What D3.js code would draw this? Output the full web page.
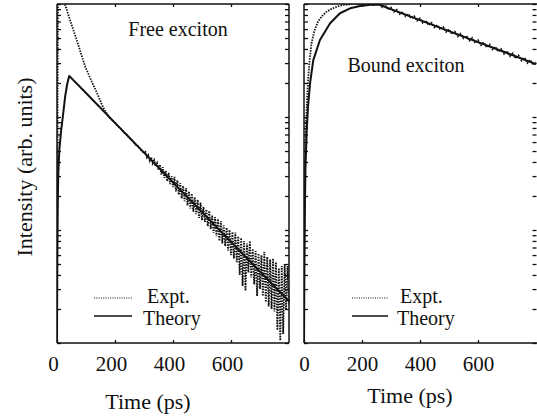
<!DOCTYPE html>
<html>
<head>
<meta charset="utf-8">
<script src="https://cdn.jsdelivr.net/npm/d3@7"></script>
<style>
  body { margin: 0; background: #fff; }
  text { font-family: "Liberation Serif", "DejaVu Serif", serif; fill: #111; }
</style>
</head>
<body>
<div id="chart"></div>
<script>
// time (ps), intensity (arb. units)
const xTicks = [0, 200, 400, 600];
const topTicks = [200, 400, 600];
const legendLabels = ["Expt.", "Theory"];

const freeTheory = [[0,1],[1,5],[2,12],[3,20],[4.5,32],[8,51],[14,75],[20,100],[28,151],[35,195],[42,231],
  [100,163],[200,88.7],[300,48.4],[400,26.4],[500,14.4],[600,7.85],[700,4.28],[800,2.34]];

const freeExpt = [[0,1],[0.7,5],[1.3,30],[2,150],[3,700],[4,1500],[15,1400],[27,1000],[45,720],[68,480],
  [97,280],[120,205],[137,165],[160,120],[180,99],[190,94],[200,89],[210,83],[220,79],[230,73],[240,70],
  [250,65],[260,62],[270,57],[280,55],[290,51],[300,48],
  [305,49],[310,44],[315,46],[320,41],[325,44],[330,39],[335,41.5],[340,36.5],[345,39],[350,34],[355,38],
  [360,31],[365,36],[370,29],[375,33.5],[380,27],[385,32],[390,25.5],[395,30],[400,24],
  [405,29.5],[410,22],[415,27.5],[420,20.5],[425,26],[430,19],[435,24.5],[440,18],[445,23.5],[450,16.5],
  [455,22],[460,15.5],[465,21],[470,14.5],[475,19.5],[480,13.8],[485,18.5],[490,12.8],[495,17.5],[500,12.2],
  [505,16],[510,11.8],[515,15.2],[520,10.8],[525,14.8],[530,10.2],[535,13.5],[540,9.4],[545,13],[550,8.8],
  [555,12.5],[560,8.0],[565,12],[570,7.6],[575,11],[580,7.2],[585,10.5],[590,6.6],[595,10],[600,6.0],
  [605,9.6],[610,5.6],[615,9.5],[620,5.2],[625,8.8],[630,4.0],[635,8.5],[640,3.2],[645,8],[650,2.9],
  [655,7.6],[660,4.2],[665,8.0],[670,3.8],[675,6.8],[680,3.3],[685,6.5],[690,2.6],[695,6.2],[700,3.0],
  [705,6.0],[710,2.6],[715,6.4],[720,2.3],[725,5.8],[730,2.1],[735,5.5],[740,2.0],[745,5.6],[750,1.9],
  [755,5.2],[760,1.3],[765,4.6],[770,1.05],[775,4.8],[780,1.2],[785,5.0],[790,2.0],[795,4.8],[800,2.2]];

const boundTheory = [[0,1],[1.5,5],[3.4,18],[5,35],[9,72],[14,125],[21,199],[32,319],[55,480],[90,675],
  [124,828],[159,916],[193,960],[230,985],[260,985],[300,900],[400,720],[500,576],[600,460],[700,368],[800,294]];

const boundExpt = [[0,1],[0.5,4],[1,10],[2,20],[3,32],[4.5,48],[6,70],[8,100],[11,150],[15,230],[20,330],
  [26,450],[36,580],[48,697],[62,780],[78,855],[95,905],[113,946],[134,980],[160,995],[180,1005],[200,990],
  [210,1010],[220,995],[230,1005],[240,980],[250,1000],
  [260,1010],[270,935],[280,975],[290,890],[300,930],[310,855],[320,890],[330,815],[340,850],[350,780],
  [360,815],[370,745],[380,780],[390,712],[400,748],[410,680],[420,712],[430,650],[440,682],[450,622],
  [460,652],[470,594],[480,625],[490,566],[500,598],[510,543],[520,570],[530,518],[540,546],[550,497],
  [560,522],[570,474],[580,500],[590,452],[600,478],[610,433],[620,457],[630,414],[640,437],[650,396],
  [660,418],[670,378],[680,399],[690,362],[700,383],[710,345],[720,366],[730,330],[740,350],[750,316],
  [760,335],[770,301],[780,320],[790,289],[800,305]];

const W = 537, H = 419;
const yTop = 4, yBottom = 343;

const svg = d3.select("#chart").append("svg")
    .attr("width", W)
    .attr("height", H);

svg.append("rect").attr("width", W).attr("height", H).attr("fill", "#fff");

const y = d3.scaleLog().domain([1, 1000]).range([yBottom, yTop]);

const panels = [
  { id: "free", left: 57, right: 289, theory: freeTheory, expt: freeExpt, title: "Free exciton",
    tx: 178, ty: 36, labelDx: -4, rightBorder: true,
    leg: { x1: 94, x2: 132, ex: 147, thx: 143 }, xt: { x: 148, y: 409 } },
  { id: "bound", left: 304, right: 536, theory: boundTheory, expt: boundExpt, title: "Bound exciton",
    tx: 406, ty: 72, labelDx: 0, rightBorder: false,
    leg: { x1: 352, x2: 388, ex: 400, thx: 397 }, xt: { x: 410, y: 403 } }
];

panels.forEach(function (p) {
  const x = d3.scaleLinear().domain([0, 800]).range([p.left, p.right]);
  const g = svg.append("g");

  g.append("clipPath").attr("id", "clip-" + p.id)
    .append("rect")
    .attr("x", p.left).attr("y", yTop)
    .attr("width", p.right - p.left + 2).attr("height", yBottom - yTop);

  const line = d3.line()
      .x(function (d) { return x(d[0]); })
      .y(function (d) { return y(d[1]); });

  const plot = g.append("g").attr("clip-path", "url(#clip-" + p.id + ")");

  // experiment: dotted
  plot.append("path")
      .datum(p.expt)
      .attr("d", line)
      .attr("fill", "none")
      .attr("stroke", "#111")
      .attr("stroke-width", 1.8)
      .attr("stroke-dasharray", "1.5,1.2");

  // theory: solid
  plot.append("path")
      .datum(p.theory)
      .attr("d", line)
      .attr("fill", "none")
      .attr("stroke", "#111")
      .attr("stroke-width", 2)
      .attr("stroke-linejoin", "round");

  // frame
  const frame = g.append("g").attr("stroke", "#111").attr("stroke-width", 1.5);
  const xEnd = p.rightBorder ? p.right : W + 2;
  frame.append("line").attr("x1", p.left).attr("x2", p.left).attr("y1", yTop).attr("y2", yBottom);
  frame.append("line").attr("x1", p.left).attr("x2", xEnd).attr("y1", yTop).attr("y2", yTop);
  frame.append("line").attr("x1", p.left).attr("x2", xEnd).attr("y1", yBottom).attr("y2", yBottom);
  if (p.rightBorder) {
    frame.append("line").attr("x1", p.right).attr("x2", p.right).attr("y1", yTop).attr("y2", yBottom);
  }

  // log ticks, inside on both sides
  const yl = g.append("g").attr("transform", "translate(" + p.left + ",0)")
      .call(d3.axisRight(y).tickValues(y.ticks()).tickSize(4).tickFormat(""));
  const yr = g.append("g").attr("transform", "translate(" + (p.rightBorder ? p.right : W - 0.5) + ",0)")
      .call(d3.axisLeft(y).tickValues(y.ticks()).tickSize(4).tickFormat(""));
  [yl, yr].forEach(function (a) {
    a.select(".domain").remove();
    a.selectAll(".tick line").attr("stroke", "#111").attr("stroke-width", 1.3);
  });

  // time axis
  const xb = g.append("g").attr("transform", "translate(0," + yBottom + ")")
      .call(d3.axisBottom(x).tickValues(xTicks).tickSize(-3).tickPadding(13));
  xb.select(".domain").remove();
  xb.selectAll(".tick line").attr("stroke", "#111").attr("stroke-width", 1.3);
  xb.selectAll(".tick text")
      .attr("dx", p.labelDx)
      .style("font-size", "21px")
      .style("font-family", "'Liberation Serif', serif")
      .attr("fill", "#111");

  const xt = g.append("g").attr("transform", "translate(0," + yTop + ")")
      .call(d3.axisTop(x).tickValues(topTicks).tickSize(-3).tickFormat(""));
  xt.select(".domain").remove();
  xt.selectAll(".tick line").attr("stroke", "#111").attr("stroke-width", 1.3);

  // panel title
  g.append("text")
      .attr("x", p.tx).attr("y", p.ty)
      .attr("text-anchor", "middle")
      .style("font-size", "20px")
      .text(p.title);

  // legend
  g.append("line")
      .attr("x1", p.leg.x1).attr("x2", p.leg.x2).attr("y1", 298).attr("y2", 298)
      .attr("stroke", "#111").attr("stroke-width", 1.2).attr("stroke-dasharray", "1,1.3");
  g.append("line")
      .attr("x1", p.leg.x1).attr("x2", p.leg.x2).attr("y1", 316).attr("y2", 316)
      .attr("stroke", "#111").attr("stroke-width", 1.6);
  g.append("text").attr("x", p.leg.ex).attr("y", 303).style("font-size", "20px").text(legendLabels[0]);
  g.append("text").attr("x", p.leg.thx).attr("y", 325).style("font-size", "20px").text(legendLabels[1]);

  // x title
  g.append("text")
      .attr("x", p.xt.x).attr("y", p.xt.y)
      .attr("text-anchor", "middle")
      .style("font-size", "22px")
      .text("Time (ps)");
});

svg.append("text")
    .attr("transform", "translate(31.5,167) rotate(-90)")
    .attr("text-anchor", "middle")
    .style("font-size", "22px")
    .text("Intensity (arb. units)");
</script>
</body>
</html>
